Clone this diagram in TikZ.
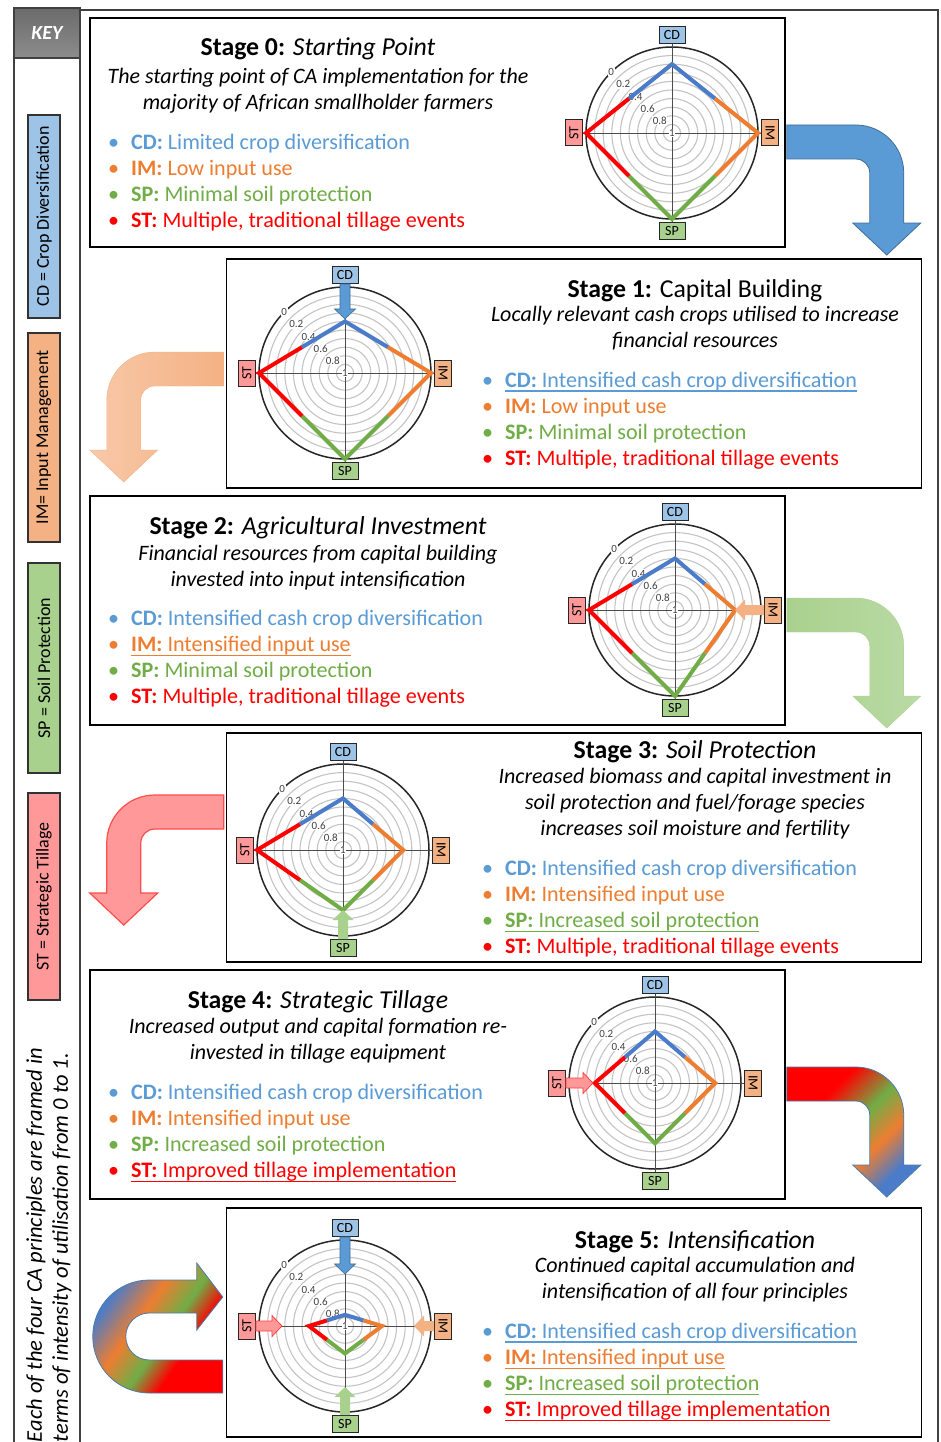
\documentclass[tikz,border=0pt]{standalone}
\usepackage{fontspec}
\setmainfont{Carlito}
\usepackage{tikz}
\usetikzlibrary{arrows.meta,positioning,calc}
\definecolor{ink}{HTML}{000000}
\definecolor{frame}{HTML}{404040}
\definecolor{cdc}{HTML}{5B9BD5}
\definecolor{imc}{HTML}{ED7D31}
\definecolor{spc}{HTML}{70AD47}
\definecolor{stc}{HTML}{FF0000}
\definecolor{cdline}{HTML}{4A7CC9}
\definecolor{cdkey}{HTML}{9DC3E6}
\definecolor{imkey}{HTML}{F4B183}
\definecolor{spkey}{HTML}{A9D18E}
\definecolor{stkey}{HTML}{FF9999}
\definecolor{ringc}{HTML}{C4C4C4}
\pgfdeclarehorizontalshading{tillshade}{100bp}{color(0bp)=(stc); color(33bp)=(stc); color(48bp)=(spc); color(60bp)=(imc); color(72bp)=(cdline); color(100bp)=(cdline)}
\pgfdeclarehorizontalshading{loopshade}{100bp}{color(0bp)=(cdline); color(28bp)=(cdline); color(42bp)=(imc); color(54bp)=(spc); color(64bp)=(stc); color(100bp)=(stc)}

% one bullet line of a stage, and its underline
\newcommand{\entry}[2]{\textcolor{#1}{\makebox[23pt][l]{\textbullet}#2}}
\newcommand{\uln}[1]{\setbox0\hbox{#1}\rlap{\rule[-4.5pt]{\wd0}{1.2pt}}\box0}

% radar: name, centre, CD, IM, SP, ST (radius as a share of the rim)
\newcommand{\radarchart}[6]{%
\begin{scope}[shift={#2},scale=86]
\foreach \rad in {0.1,0.2,...,0.95} \draw[ring] (0,0) circle[radius=\rad];
\draw[rim] (0,0) circle[radius=1];
\node[axisbox,fill=cdkey] (#1cd) at (0,1.14) {CD};
\node[axisbox,fill=imkey,rotate=-90] (#1im) at (1.14,0) {IM};
\node[axisbox,fill=spkey] (#1sp) at (0,-1.14) {SP};
\node[axisbox,fill=stkey,rotate=90] (#1st) at (-1.14,0) {ST};
\draw[spoke] (#1cd) -- (#1sp);
\draw[spoke] (#1st) -- (#1im);
\foreach \lbl/\rad [count=\i] in {0/1,0.2/0.8,0.4/0.6,0.6/0.4,0.8/0.2,1/0}
  \node[scalemark] (#1t\i) at (135:\rad) {\lbl};
\coordinate (#1a) at (0,#3);
\coordinate (#1b) at (#4,0);
\coordinate (#1c) at (0,-#5);
\coordinate (#1d) at (-#6,0);
\draw[cdpoly] ($(#1d)!.5!(#1a)$) -- (#1a) -- ($(#1a)!.5!(#1b)$);
\draw[impoly] ($(#1a)!.5!(#1b)$) -- (#1b) -- ($(#1b)!.5!(#1c)$);
\draw[sppoly] ($(#1b)!.5!(#1c)$) -- (#1c) -- ($(#1c)!.5!(#1d)$);
\draw[stpoly] ($(#1c)!.5!(#1d)$) -- (#1d) -- ($(#1d)!.5!(#1a)$);
\end{scope}}

% short block arrow: style, tail point, direction, length
\newcommand{\pushflow}[4]{\path[#1,shift={#2},rotate=#3] (0,5) -- ({#4-10},5) -- ({#4-10},10.5) -- (#4,0) -- ({#4-10},-10.5) -- ({#4-10},-5) -- (0,-5) -- cycle;}

% bent block arrow, starting at its top left corner
\newcommand{\bentflow}[1]{\path[#1] (0,0) -- (69,0) arc[start angle=90,end angle=0,radius=48] -- (117,-98) -- (134,-98) -- (100,-130) -- (66,-98) -- (83,-98) -- (83,-48) arc[start angle=0,end angle=90,radius=14] -- (0,-34) -- cycle;}

\begin{document}
\begin{tikzpicture}[x=1pt,y=1pt,every node/.style={font=\fontsize{22.1}{26.3}\selectfont}]
\tikzstyle{board}=[draw=frame,line width=1.4pt,inner sep=0pt]
\tikzstyle{stagebox}=[draw=ink,line width=1.5pt,fill=white,minimum width=695pt,minimum height=229pt,inner sep=0pt]
\tikzstyle{keybox}=[draw=ink!80,line width=1.2pt,rotate=90,minimum width=205pt,minimum height=32pt,inner sep=0pt,font=\fontsize{18}{20}\selectfont]
\tikzstyle{keynote}=[rotate=90,align=left,inner sep=0pt,font=\itshape\fontsize{22.5}{26}\selectfont]
\tikzstyle{stagetitle}=[anchor=base,inner sep=0pt,font=\fontsize{25.8}{30}\selectfont]
\tikzstyle{leadtext}=[anchor=north,align=center,inner sep=0pt,font=\itshape\fontsize{22}{26}\selectfont]
\tikzstyle{itemlist}=[anchor=north west,align=left,inner sep=0pt]
\tikzstyle{ring}=[ringc,line width=1.1pt]
\tikzstyle{rim}=[ink!85,line width=1.5pt]
\tikzstyle{spoke}=[ink!70,line width=0.9pt]
\tikzstyle{axisbox}=[draw=ink!85,line width=1pt,minimum width=26pt,minimum height=17pt,inner sep=0pt,font=\fontsize{14}{15}\selectfont]
\tikzstyle{scalemark}=[fill=white,inner sep=0.6pt,text=ink!75,font=\fontsize{11}{12}\selectfont]
\tikzstyle{cdpoly}=[cdline,line width=4pt]
\tikzstyle{impoly}=[imc,line width=4pt]
\tikzstyle{sppoly}=[spc,line width=4pt]
\tikzstyle{stpoly}=[stc,line width=4pt]
\tikzstyle{cdpush}=[fill=cdc,draw=cdc!70!black,line width=0.6pt]
\tikzstyle{impush}=[fill=imkey]
\tikzstyle{sppush}=[fill=spkey]
\tikzstyle{stpush}=[fill=stkey,draw=stc!75,line width=0.8pt]
\useasboundingbox (0,0) rectangle (941,-1442);

% frame and key
\node[board,minimum width=858pt,minimum height=1440pt] (board) at (509,-730) {};
\node[board,minimum width=66pt,minimum height=1442pt] (key) at (47,-729) {};
\node[board,top color=black!58,bottom color=black!45,minimum width=66pt,minimum height=50pt,text=white,font=\bfseries\itshape\fontsize{20}{22}\selectfont] (keyhead) at (47,-33) {KEY};
\node[keybox,fill=cdkey,minimum width=203pt] (kcd) at (44,-216.5) {CD = Crop Diversification};
\node[keybox,fill=imkey,minimum width=209pt] (kim) at (44,-437.5) {IM= Input Management};
\node[keybox,fill=spkey,minimum width=210pt] (ksp) at (44,-668) {SP = Soil Protection};
\node[keybox,fill=stkey,minimum width=207pt] (kst) at (44,-896.5) {ST = Strategic Tillage};
\node[keynote] (knote) at (49,-1245) {Each of the four CA principles are framed in\\terms of intensity of utilisation from 0 to 1.};

% stage 0
\node[stagebox] (s0) at (437.5,-132.5) {};
\node[stagetitle] (t0) at (318,-56) {\textbf{Stage 0:} \textit{Starting Point}};
\node[leadtext] (d0) at (318,-68.5) {The starting point of CA implementation for the\\majority of African smallholder farmers};
\node[itemlist] (l0) at (108,-133.5) {\entry{cdc}{\textbf{CD:} Limited crop diversification}\\
\entry{imc}{\textbf{IM:} Low input use}\\
\entry{spc}{\textbf{SP:} Minimal soil protection}\\
\entry{stc}{\textbf{ST:} Multiple, traditional tillage events}};
\radarchart{r0}{(672,-133)}{0.8}{1}{1}{1}

% stage 1
\node[stagebox] (s1) at (574,-373.5) {};
\node[stagetitle] (t1) at (695,-297) {\textbf{Stage 1:} Capital Building};
\node[leadtext] (d1) at (695,-306.5) {Locally relevant cash crops utilised to increase\\financial resources};
\node[itemlist] (l1) at (482,-371.5) {\entry{cdc}{\uln{\textbf{CD:} Intensified cash crop diversification}}\\
\entry{imc}{\textbf{IM:} Low input use}\\
\entry{spc}{\textbf{SP:} Minimal soil protection}\\
\entry{stc}{\textbf{ST:} Multiple, traditional tillage events}};
\radarchart{r1}{(345,-373)}{0.6}{1}{1}{1}
\pushflow{cdpush}{(r1cd.south)}{-90}{35}

% stage 2
\node[stagebox] (s2) at (437.5,-610.5) {};
\node[stagetitle] (t2) at (318,-534) {\textbf{Stage 2:} \textit{Agricultural Investment}};
\node[leadtext] (d2) at (318,-545.5) {Financial resources from capital building\\invested into input intensification};
\node[itemlist] (l2) at (108,-609.5) {\entry{cdc}{\textbf{CD:} Intensified cash crop diversification}\\
\entry{imc}{\uln{\textbf{IM:} Intensified input use}}\\
\entry{spc}{\textbf{SP:} Minimal soil protection}\\
\entry{stc}{\textbf{ST:} Multiple, traditional tillage events}};
\radarchart{r2}{(675,-610)}{0.6}{0.7}{1}{1}
\pushflow{impush}{(r2im.south)}{180}{29}

% stage 3
\node[stagebox] (s3) at (574,-847.5) {};
\node[stagetitle] (t3) at (695,-758) {\textbf{Stage 3:} \textit{Soil Protection}};
\node[leadtext] (d3) at (695,-768.5) {Increased biomass and capital investment in\\soil protection and fuel/forage species\\increases soil moisture and fertility};
\node[itemlist] (l3) at (482,-859.5) {\entry{cdc}{\textbf{CD:} Intensified cash crop diversification}\\
\entry{imc}{\textbf{IM:} Intensified input use}\\
\entry{spc}{\uln{\textbf{SP:} Increased soil protection}}\\
\entry{stc}{\textbf{ST:} Multiple, traditional tillage events}};
\radarchart{r3}{(343,-850)}{0.6}{0.7}{0.7}{1}
\pushflow{sppush}{(r3sp.north)}{90}{29}

% stage 4
\node[stagebox] (s4) at (437.5,-1084.5) {};
\node[stagetitle] (t4) at (318,-1008) {\textbf{Stage 4:} \textit{Strategic Tillage}};
\node[leadtext] (d4) at (318,-1018.5) {Increased output and capital formation re-\\invested in tillage equipment};
\node[itemlist] (l4) at (108,-1083.5) {\entry{cdc}{\textbf{CD:} Intensified cash crop diversification}\\
\entry{imc}{\textbf{IM:} Intensified input use}\\
\entry{spc}{\textbf{SP:} Increased soil protection}\\
\entry{stc}{\uln{\textbf{ST:} Improved tillage implementation}}};
\radarchart{r4}{(655,-1083)}{0.6}{0.7}{0.7}{0.7}
\pushflow{stpush}{(r4st.south)}{0}{27}

% stage 5
\node[stagebox] (s5) at (574,-1322.5) {};
\node[stagetitle] (t5) at (695,-1248) {\textbf{Stage 5:} \textit{Intensification}};
\node[leadtext] (d5) at (695,-1257.5) {Continued capital accumulation and\\intensification of all four principles};
\node[itemlist] (l5) at (482,-1322.5) {\entry{cdc}{\uln{\textbf{CD:} Intensified cash crop diversification}}\\
\entry{imc}{\uln{\textbf{IM:} Intensified input use}}\\
\entry{spc}{\uln{\textbf{SP:} Increased soil protection}}\\
\entry{stc}{\uln{\textbf{ST:} Improved tillage implementation}}};
\radarchart{r5}{(345,-1326)}{0.13}{0.43}{0.32}{0.42}
\pushflow{cdpush}{(r5cd.south)}{-90}{37}
\pushflow{impush}{(r5im.south)}{180}{20}
\pushflow{sppush}{(r5sp.north)}{90}{28}
\pushflow{stpush}{(r5st.south)}{0}{26}

% flow between the stages
\bentflow{shift={($(s0.east)+(1,7.5)$)},fill=cdc,draw=cdc!70!black,line width=0.8pt}
\bentflow{shift={($(s1.west)+(-2,21.5)$)},xscale=-1,left color=imkey!70,right color=imkey,draw=imkey}
\bentflow{shift={($(s2.east)+(1,12.5)$)},left color=spkey,right color=spkey!80,draw=spkey}
\bentflow{shift={($(s3.west)+(-2,52.5)$)},xscale=-1,fill=stkey,draw=stc!70,line width=1.2pt}
\bentflow{shift={($(s4.east)+(1,17.5)$)},shade,shading=tillshade,shading angle=-45,draw=cdc!80!black,line width=0.8pt}
\path[shift={(s5.west)},shade,shading=loopshade,shading angle=-35,draw=cdc!80!black,line width=0.8pt] (-3,-70.5) -- (-76.5,-70.5) arc[start angle=270,end angle=90,radius=56.5] -- (-29,42.5) -- (-29,59.5) -- (-3,25.5) -- (-29,-7.5) -- (-29,9.5) -- (-76.5,9.5) arc[start angle=90,end angle=270,radius=23.5] -- (-3,-37.5) -- cycle;
\end{tikzpicture}
\end{document}
